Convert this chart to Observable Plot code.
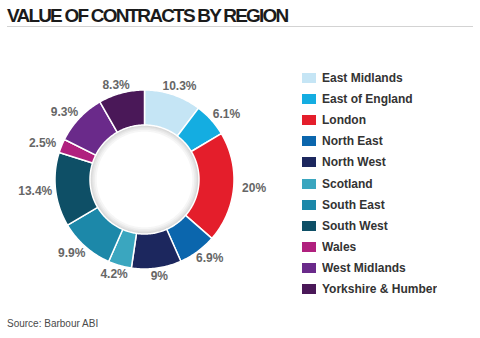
<!DOCTYPE html>
<html><head><meta charset="utf-8">
<script src="https://cdn.jsdelivr.net/npm/d3@7"></script>
<script src="https://cdn.jsdelivr.net/npm/@observablehq/plot@0.6"></script>
<style>
html,body{margin:0;padding:0;background:#fff;}
#wrap{position:relative;width:480px;height:338px;overflow:hidden;font-family:"Liberation Sans",Arial,sans-serif;}
#title{position:absolute;left:7px;top:6px;font-size:19px;line-height:19px;font-weight:bold;letter-spacing:-1.8px;color:#1b1b1b;white-space:nowrap;}
#rule{position:absolute;left:7px;top:26px;width:466px;height:1px;background:#d3d3d3;}
#chart{position:absolute;left:0;top:0;}
#legend{position:absolute;left:302px;top:67.5px;}
#source{position:absolute;left:7px;top:318.5px;font-size:10px;line-height:10px;color:#4a4a4a;white-space:nowrap;}
.lg-swatches{font-family:"Liberation Sans",Arial,sans-serif !important;font-size:12px !important;font-weight:bold;color:#333;margin:0 !important;}
.lg-swatch{height:21.1px;padding-bottom:0 !important;}
.lg-swatch>svg{margin-right:6px !important;}
</style></head>
<body><div id="wrap">
<div id="chart"></div>
<div id="title">VALUE OF CONTRACTS BY REGION</div>
<div id="rule"></div>
<div id="legend"></div>
<div id="source">Source: Barbour ABI</div>
</div>
<script>
const regions = ["East Midlands", "East of England", "London", "North East", "North West", "Scotland", "South East", "South West", "Wales", "West Midlands", "Yorkshire & Humber"];
const shares = [10.3, 6.1, 20, 6.9, 9, 4.2, 9.9, 13.4, 2.5, 9.3, 8.3];
const labels = ["10.3%", "6.1%", "20%", "6.9%", "9%", "4.2%", "9.9%", "13.4%", "2.5%", "9.3%", "8.3%"];
const colors = ["#c5e5f5", "#14ade1", "#e41e2b", "#0b66ad", "#1c275e", "#3aa6bf", "#1c88a9", "#0e4f66", "#b0207e", "#6a2a8a", "#4a1858"];

// layout constants (pixels)
const W = 480, H = 338, CX = 144, CY = 179, R = 89.5;
const INNER = 54.5 / R;       // inner radius as a fraction of outer
const LRX = 110 / R, LRY = 98 / R; // label ellipse radii

const arcs = d3.pie().sort(null).value(d => d)(shares);

function ring(a0, a1, r0, r1) {
  const n = Math.max(2, Math.ceil((a1 - a0) / (Math.PI / 180)));
  const as = d3.range(n + 1).map(i => a0 + (a1 - a0) * i / n);
  const pts = as.map(a => [r1 * Math.sin(a), r1 * Math.cos(a)])
    .concat(as.slice().reverse().map(a => [r0 * Math.sin(a), r0 * Math.cos(a)]));
  pts.push(pts[0]);
  return pts;
}

const slices = arcs.map((a, i) => ({
  type: "Feature",
  properties: {region: regions[i]},
  geometry: {type: "Polygon", coordinates: [ring(a.startAngle, a.endAngle, INNER, 1)]}
}));

const shadow = [0.075, 0.055, 0.038, 0.024, 0.012].map(w => ({
  type: "Feature", properties: {},
  geometry: {type: "Polygon", coordinates: [ring(0, 2 * Math.PI, INNER - w, INNER)]}
}));

const labelData = arcs.map((a, i) => {
  const m = (a.startAngle + a.endAngle) / 2;
  return {label: labels[i], x: LRX * Math.sin(m), y: LRY * Math.cos(m)};
});

const square = {type: "Polygon", coordinates: [[[-1, -1], [1, -1], [1, 1], [-1, 1], [-1, -1]]]};

const chart = Plot.plot({
  width: W, height: H,
  marginLeft: CX - R, marginRight: W - CX - R,
  marginTop: CY - R, marginBottom: H - CY - R,
  projection: {type: "reflect-y", domain: square, clip: false, inset: 0},
  color: {type: "ordinal", domain: regions, range: colors},
  style: {background: "transparent", fontFamily: "'Liberation Sans', Arial, sans-serif"},
  marks: [
    Plot.geo(shadow, {fill: "#000", fillOpacity: 0.035}),
    Plot.geo(slices, {fill: d => d.properties.region, stroke: "#fff", strokeWidth: 1.5}),
    Plot.text(labelData, {x: "x", y: "y", text: "label", fontSize: 12, fontWeight: "bold", fill: "#666"})
  ]
});
document.getElementById("chart").appendChild(chart);

const legend = Plot.legend({
  color: {type: "ordinal", domain: regions, range: colors},
  columns: 1, swatchWidth: 14, swatchHeight: 10, className: "lg"
});
document.getElementById("legend").appendChild(legend);
</script>
</body></html>
